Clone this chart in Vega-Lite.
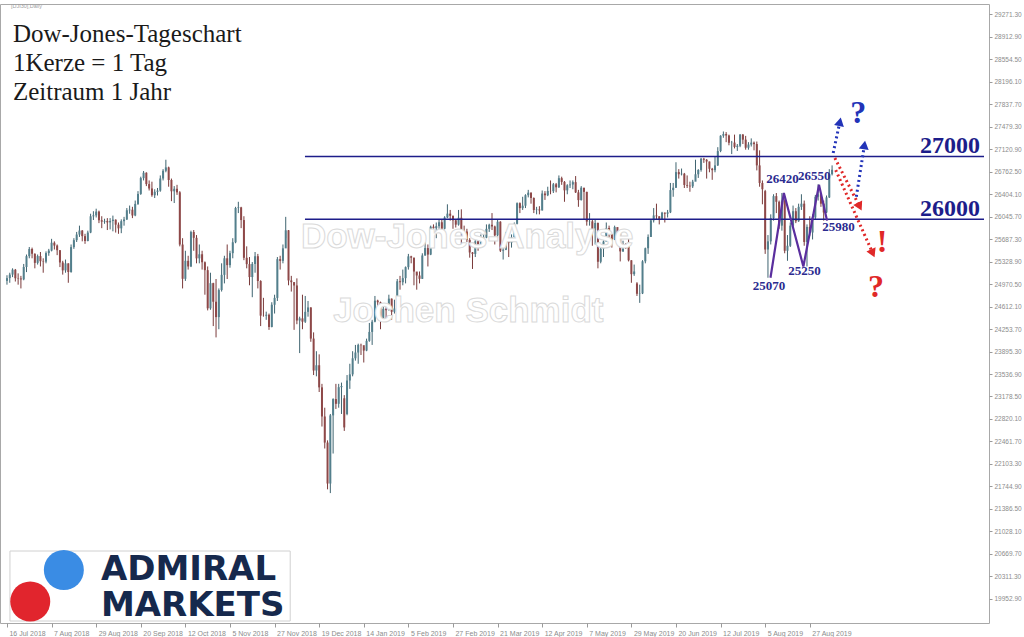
{
"$schema": "https://vega.github.io/schema/vega-lite/v6.json",
"width": 989, "height": 619,
"autosize": {"type": "none"},
"padding": {"left": 0, "top": 4, "right": 35, "bottom": 14},
"background": "white",
"config": {"axis": {"grid": false, "domain": false, "labelFont": "Liberation Sans", "labelFontSize": 7, "labelColor": "#8c8c8c", "tickColor": "#9a9a9a", "tickSize": 3, "title": null, "labelOverlap": false}, "view": {"stroke": "#a8a8a8"}},
"datasets": {
"candles": [
{"i":0,"o":25020,"h":25110,"l":24960,"c":25064},{"i":1,"o":25064,"h":25150,"l":24990,"c":25120},{"i":2,"o":25120,"h":25220,"l":25080,"c":25199},{"i":3,"o":25199,"h":25210,"l":25010,"c":25064},{"i":4,"o":25064,"h":25140,"l":24960,"c":25058},{"i":5,"o":25058,"h":25100,"l":24900,"c":25044},{"i":6,"o":25044,"h":25290,"l":25030,"c":25241},{"i":7,"o":25241,"h":25440,"l":25160,"c":25414},{"i":8,"o":25414,"h":25560,"l":25380,"c":25527},{"i":9,"o":25527,"h":25550,"l":25380,"c":25451},
{"i":10,"o":25451,"h":25460,"l":25220,"c":25307},{"i":11,"o":25307,"h":25440,"l":25280,"c":25415},{"i":12,"o":25415,"h":25480,"l":25250,"c":25333},{"i":13,"o":25333,"h":25380,"l":25150,"c":25327},{"i":14,"o":25327,"h":25490,"l":25300,"c":25463},{"i":15,"o":25463,"h":25530,"l":25420,"c":25502},{"i":16,"o":25502,"h":25690,"l":25490,"c":25628},{"i":17,"o":25628,"h":25650,"l":25520,"c":25583},{"i":18,"o":25583,"h":25600,"l":25430,"c":25509},{"i":19,"o":25509,"h":25510,"l":25240,"c":25313},
{"i":20,"o":25313,"h":25340,"l":25120,"c":25188},{"i":21,"o":25188,"h":25360,"l":25150,"c":25299},{"i":22,"o":25299,"h":25300,"l":24990,"c":25162},{"i":23,"o":25162,"h":25600,"l":25150,"c":25558},{"i":24,"o":25558,"h":25700,"l":25530,"c":25669},{"i":25,"o":25669,"h":25800,"l":25640,"c":25758},{"i":26,"o":25758,"h":25900,"l":25720,"c":25822},{"i":27,"o":25822,"h":25830,"l":25650,"c":25733},{"i":28,"o":25733,"h":25770,"l":25610,"c":25656},{"i":29,"o":25656,"h":25820,"l":25650,"c":25790},
{"i":30,"o":25790,"h":26090,"l":25780,"c":26049},{"i":31,"o":26049,"h":26130,"l":25990,"c":26064},{"i":32,"o":26064,"h":26170,"l":26030,"c":26124},{"i":33,"o":26124,"h":26140,"l":25940,"c":25986},{"i":34,"o":25986,"h":26050,"l":25860,"c":25964},{"i":35,"o":25964,"h":26010,"l":25930,"c":25975},{"i":36,"o":25975,"h":26020,"l":25830,"c":25952},{"i":37,"o":25952,"h":26020,"l":25840,"c":25974},{"i":38,"o":25974,"h":26060,"l":25810,"c":25995},{"i":39,"o":25995,"h":26000,"l":25790,"c":25916},
{"i":40,"o":25916,"h":25950,"l":25770,"c":25857},{"i":41,"o":25857,"h":26000,"l":25780,"c":25971},{"i":42,"o":25971,"h":26040,"l":25900,"c":25998},{"i":43,"o":25998,"h":26180,"l":25990,"c":26145},{"i":44,"o":26145,"h":26220,"l":26090,"c":26154},{"i":45,"o":26154,"h":26200,"l":26020,"c":26062},{"i":46,"o":26062,"h":26300,"l":26050,"c":26246},{"i":47,"o":26246,"h":26450,"l":26230,"c":26405},{"i":48,"o":26405,"h":26680,"l":26390,"c":26657},{"i":49,"o":26657,"h":26770,"l":26620,"c":26743},
{"i":50,"o":26743,"h":26750,"l":26530,"c":26562},{"i":51,"o":26562,"h":26620,"l":26460,"c":26492},{"i":52,"o":26492,"h":26600,"l":26360,"c":26385},{"i":53,"o":26385,"h":26480,"l":26340,"c":26439},{"i":54,"o":26439,"h":26500,"l":26380,"c":26458},{"i":55,"o":26458,"h":26700,"l":26440,"c":26651},{"i":56,"o":26651,"h":26800,"l":26620,"c":26774},{"i":57,"o":26774,"h":26950,"l":26750,"c":26828},{"i":58,"o":26828,"h":26840,"l":26520,"c":26627},{"i":59,"o":26627,"h":26650,"l":26290,"c":26447},
{"i":60,"o":26447,"h":26530,"l":26260,"c":26487},{"i":61,"o":26487,"h":26550,"l":26390,"c":26431},{"i":62,"o":26431,"h":26450,"l":25570,"c":25599},{"i":63,"o":25599,"h":25700,"l":24900,"c":25053},{"i":64,"o":25053,"h":25500,"l":25020,"c":25340},{"i":65,"o":25340,"h":25420,"l":25200,"c":25250},{"i":66,"o":25250,"h":25820,"l":25240,"c":25798},{"i":67,"o":25798,"h":25830,"l":25500,"c":25706},{"i":68,"o":25706,"h":25750,"l":25300,"c":25379},{"i":69,"o":25379,"h":25600,"l":25300,"c":25444},
{"i":70,"o":25444,"h":25500,"l":25200,"c":25317},{"i":71,"o":25317,"h":25330,"l":24800,"c":25191},{"i":72,"o":25191,"h":25250,"l":24550,"c":24583},{"i":73,"o":24583,"h":25150,"l":24560,"c":24984},{"i":74,"o":24984,"h":24990,"l":24300,"c":24688},{"i":75,"o":24688,"h":25050,"l":24120,"c":24443},{"i":76,"o":24443,"h":24900,"l":24250,"c":24874},{"i":77,"o":24874,"h":25300,"l":24850,"c":25116},{"i":78,"o":25116,"h":25420,"l":24980,"c":25380},{"i":79,"o":25380,"h":25600,"l":25050,"c":25271},
{"i":80,"o":25271,"h":25500,"l":25230,"c":25462},{"i":81,"o":25462,"h":25700,"l":25380,"c":25635},{"i":82,"o":25635,"h":26200,"l":25620,"c":26181},{"i":83,"o":26181,"h":26280,"l":26100,"c":26191},{"i":84,"o":26191,"h":26200,"l":25860,"c":25989},{"i":85,"o":25989,"h":26050,"l":25350,"c":25388},{"i":86,"o":25388,"h":25570,"l":25220,"c":25287},{"i":87,"o":25287,"h":25400,"l":24950,"c":25081},{"i":88,"o":25081,"h":25320,"l":24760,"c":25290},{"i":89,"o":25290,"h":25480,"l":25150,"c":25413},
{"i":90,"o":25413,"h":25450,"l":24900,"c":25018},{"i":91,"o":25018,"h":25030,"l":24300,"c":24466},{"i":92,"o":24466,"h":24750,"l":24450,"c":24465},{"i":93,"o":24465,"h":24530,"l":24400,"c":24480},{"i":94,"o":24480,"h":24500,"l":24240,"c":24286},{"i":95,"o":24286,"h":24680,"l":24280,"c":24640},{"i":96,"o":24640,"h":24800,"l":24500,"c":24749},{"i":97,"o":24749,"h":25400,"l":24700,"c":25366},{"i":98,"o":25366,"h":25420,"l":25200,"c":25339},{"i":99,"o":25339,"h":25600,"l":25300,"c":25538},
{"i":100,"o":25538,"h":26040,"l":25700,"c":25826},{"i":101,"o":25826,"h":25830,"l":24950,"c":25027},{"i":102,"o":25027,"h":25100,"l":24850,"c":25000},{"i":103,"o":25000,"h":25000,"l":24240,"c":24947},{"i":104,"o":24947,"h":25060,"l":24330,"c":24389},{"i":105,"o":24389,"h":24450,"l":23870,"c":24423},{"i":106,"o":24423,"h":24800,"l":24250,"c":24370},{"i":107,"o":24370,"h":24780,"l":24350,"c":24527},{"i":108,"o":24527,"h":24700,"l":24450,"c":24597},{"i":109,"o":24597,"h":24600,"l":24050,"c":24101},
{"i":110,"o":24101,"h":24200,"l":23520,"c":23592},{"i":111,"o":23592,"h":23900,"l":23500,"c":23676},{"i":112,"o":23676,"h":23850,"l":23250,"c":23324},{"i":113,"o":23324,"h":23380,"l":22700,"c":22860},{"i":114,"o":22860,"h":23000,"l":22350,"c":22445},{"i":115,"o":22445,"h":22480,"l":21700,"c":21792},{"i":116,"o":21792,"h":22900,"l":21640,"c":22878},{"i":117,"o":22878,"h":23150,"l":22270,"c":23138},{"i":118,"o":23138,"h":23380,"l":22980,"c":23062},{"i":119,"o":23062,"h":23380,"l":23000,"c":23327},
{"i":120,"o":23327,"h":23400,"l":22900,"c":23346},{"i":121,"o":23150,"h":23200,"l":22630,"c":22686},{"i":122,"o":22900,"h":23520,"l":22880,"c":23433},{"i":123,"o":23433,"h":23700,"l":23300,"c":23531},{"i":124,"o":23531,"h":23900,"l":23500,"c":23787},{"i":125,"o":23787,"h":24000,"l":23750,"c":23879},{"i":126,"o":23879,"h":24020,"l":23700,"c":24001},{"i":127,"o":24001,"h":24020,"l":23840,"c":23996},{"i":128,"o":23996,"h":23960,"l":23720,"c":23910},{"i":129,"o":23910,"h":24100,"l":23900,"c":24065},
{"i":130,"o":24065,"h":24350,"l":24050,"c":24207},{"i":131,"o":24207,"h":24400,"l":24000,"c":24370},{"i":132,"o":24370,"h":24780,"l":24360,"c":24706},{"i":133,"o":24706,"h":24720,"l":24560,"c":24680},{"i":134,"o":24680,"h":24690,"l":24250,"c":24404},{"i":135,"o":24404,"h":24650,"l":24380,"c":24575},{"i":136,"o":24575,"h":24600,"l":24400,"c":24553},{"i":137,"o":24553,"h":24800,"l":24550,"c":24737},{"i":138,"o":24737,"h":24740,"l":24400,"c":24528},{"i":139,"o":24528,"h":24720,"l":24500,"c":24580},
{"i":140,"o":24580,"h":25050,"l":24560,"c":25014},{"i":141,"o":25014,"h":25100,"l":24880,"c":24999},{"i":142,"o":24999,"h":25200,"l":24950,"c":25064},{"i":143,"o":25064,"h":25250,"l":24980,"c":25239},{"i":144,"o":25239,"h":25450,"l":25200,"c":25411},{"i":145,"o":25411,"h":25420,"l":25300,"c":25390},{"i":146,"o":25390,"h":25390,"l":24950,"c":25169},{"i":147,"o":25169,"h":25150,"l":24880,"c":25106},{"i":148,"o":25106,"h":25170,"l":24980,"c":25053},{"i":149,"o":25053,"h":25460,"l":25050,"c":25425},
{"i":150,"o":25425,"h":25640,"l":25420,"c":25543},{"i":151,"o":25543,"h":25600,"l":25250,"c":25439},{"i":152,"o":25439,"h":25900,"l":25430,"c":25883},{"i":153,"o":25883,"h":25920,"l":25820,"c":25860},{"i":154,"o":25860,"h":25950,"l":25700,"c":25891},{"i":155,"o":25891,"h":26000,"l":25850,"c":25954},{"i":156,"o":25954,"h":26000,"l":25770,"c":25851},{"i":157,"o":25851,"h":26050,"l":25840,"c":26031},{"i":158,"o":26031,"h":26240,"l":26020,"c":26091},{"i":159,"o":26091,"h":26150,"l":25980,"c":26057},
{"i":160,"o":26057,"h":26060,"l":25850,"c":25985},{"i":161,"o":25985,"h":26000,"l":25870,"c":25916},{"i":162,"o":25916,"h":26150,"l":25900,"c":26026},{"i":163,"o":26026,"h":26160,"l":25600,"c":25819},{"i":164,"o":25819,"h":25900,"l":25730,"c":25806},{"i":165,"o":25806,"h":25850,"l":25640,"c":25673},{"i":166,"o":25673,"h":25700,"l":25390,"c":25473},{"i":167,"o":25473,"h":25480,"l":25210,"c":25450},{"i":168,"o":25450,"h":25670,"l":25400,"c":25650},{"i":169,"o":25650,"h":25700,"l":25500,"c":25554},
{"i":170,"o":25554,"h":25760,"l":25550,"c":25702},{"i":171,"o":25702,"h":25830,"l":25640,"c":25709},{"i":172,"o":25709,"h":25920,"l":25700,"c":25849},{"i":173,"o":25849,"h":25930,"l":25800,"c":25914},{"i":174,"o":25914,"h":26100,"l":25830,"c":25887},{"i":175,"o":25887,"h":25900,"l":25600,"c":25745},{"i":176,"o":25745,"h":26000,"l":25700,"c":25963},{"i":177,"o":25963,"h":25970,"l":25480,"c":25502},{"i":178,"o":25502,"h":25600,"l":25360,"c":25516},{"i":179,"o":25516,"h":25800,"l":25510,"c":25658},
{"i":180,"o":25658,"h":25720,"l":25400,"c":25626},{"i":181,"o":25626,"h":25760,"l":25550,"c":25717},{"i":182,"o":25717,"h":25950,"l":25710,"c":25929},{"i":183,"o":25929,"h":26270,"l":25920,"c":26258},{"i":184,"o":26258,"h":26270,"l":26100,"c":26179},{"i":185,"o":26179,"h":26360,"l":26150,"c":26218},{"i":186,"o":26218,"h":26400,"l":26180,"c":26385},{"i":187,"o":26385,"h":26470,"l":26350,"c":26425},{"i":188,"o":26425,"h":26430,"l":26250,"c":26341},{"i":189,"o":26341,"h":26350,"l":26100,"c":26150},
{"i":190,"o":26150,"h":26200,"l":26080,"c":26157},{"i":191,"o":26157,"h":26210,"l":26080,"c":26143},{"i":192,"o":26143,"h":26460,"l":26140,"c":26412},{"i":193,"o":26412,"h":26450,"l":26310,"c":26384},{"i":194,"o":26384,"h":26520,"l":26370,"c":26453},{"i":195,"o":26453,"h":26620,"l":26400,"c":26449},{"i":196,"o":26449,"h":26580,"l":26420,"c":26559},{"i":197,"o":26559,"h":26580,"l":26430,"c":26511},{"i":198,"o":26511,"h":26700,"l":26500,"c":26656},{"i":199,"o":26656,"h":26680,"l":26550,"c":26597},
{"i":200,"o":26597,"h":26610,"l":26280,"c":26462},{"i":201,"o":26462,"h":26560,"l":26400,"c":26543},{"i":202,"o":26543,"h":26620,"l":26500,"c":26555},{"i":203,"o":26555,"h":26620,"l":26480,"c":26593},{"i":204,"o":26593,"h":26690,"l":26420,"c":26430},{"i":205,"o":26430,"h":26470,"l":26200,"c":26307},{"i":206,"o":26307,"h":26530,"l":26300,"c":26505},{"i":207,"o":26505,"h":26500,"l":26000,"c":26438},{"i":208,"o":26438,"h":26440,"l":25900,"c":25965},{"i":209,"o":25965,"h":26100,"l":25900,"c":25968},
{"i":210,"o":25968,"h":25990,"l":25580,"c":25828},{"i":211,"o":25828,"h":26000,"l":25600,"c":25942},{"i":212,"o":25942,"h":25950,"l":25220,"c":25325},{"i":213,"o":25325,"h":25600,"l":25300,"c":25532},{"i":214,"o":25532,"h":25700,"l":25400,"c":25648},{"i":215,"o":25648,"h":25950,"l":25640,"c":25863},{"i":216,"o":25863,"h":25900,"l":25700,"c":25764},{"i":217,"o":25764,"h":25770,"l":25550,"c":25680},{"i":218,"o":25680,"h":25900,"l":25670,"c":25877},{"i":219,"o":25877,"h":25870,"l":25740,"c":25776},
{"i":220,"o":25776,"h":25780,"l":25330,"c":25490},{"i":221,"o":25490,"h":25660,"l":25480,"c":25586},{"i":222,"o":25586,"h":25620,"l":25530,"c":25580},{"i":223,"o":25580,"h":25700,"l":25330,"c":25348},{"i":224,"o":25348,"h":25350,"l":24990,"c":25127},{"i":225,"o":25127,"h":25280,"l":25100,"c":25170},{"i":226,"o":24980,"h":25000,"l":24780,"c":24815},{"i":227,"o":24815,"h":24960,"l":24670,"c":24820},{"i":228,"o":24820,"h":25350,"l":24810,"c":25332},{"i":229,"o":25332,"h":25550,"l":25300,"c":25540},
{"i":230,"o":25540,"h":25760,"l":25450,"c":25720},{"i":231,"o":25720,"h":26000,"l":25720,"c":25984},{"i":232,"o":25984,"h":26180,"l":25950,"c":26062},{"i":233,"o":26062,"h":26250,"l":26000,"c":26049},{"i":234,"o":26049,"h":26050,"l":25920,"c":26005},{"i":235,"o":26005,"h":26120,"l":25990,"c":26107},{"i":236,"o":26107,"h":26110,"l":25950,"c":26090},{"i":237,"o":26090,"h":26150,"l":26030,"c":26112},{"i":238,"o":26112,"h":26580,"l":26100,"c":26466},{"i":239,"o":26466,"h":26580,"l":26360,"c":26504},
{"i":240,"o":26504,"h":26910,"l":26500,"c":26753},{"i":241,"o":26753,"h":26800,"l":26650,"c":26719},{"i":242,"o":26719,"h":26810,"l":26700,"c":26727},{"i":243,"o":26727,"h":26740,"l":26500,"c":26548},{"i":244,"o":26548,"h":26700,"l":26500,"c":26536},{"i":245,"o":26536,"h":26600,"l":26440,"c":26526},{"i":246,"o":26526,"h":26630,"l":26500,"c":26600},{"i":247,"o":26600,"h":26950,"l":26650,"c":26718},{"i":248,"o":26718,"h":26800,"l":26660,"c":26787},{"i":249,"o":26787,"h":26980,"l":26760,"c":26966},
{"i":250,"o":26966,"h":26980,"l":26900,"c":26950},{"i":251,"o":26950,"h":26960,"l":26650,"c":26922},{"i":252,"o":26922,"h":26920,"l":26750,"c":26806},{"i":253,"o":26806,"h":26820,"l":26630,"c":26784},{"i":254,"o":26784,"h":27000,"l":26750,"c":26860},{"i":255,"o":26860,"h":27150,"l":26850,"c":27088},{"i":256,"o":27088,"h":27340,"l":27070,"c":27332},{"i":257,"o":27332,"h":27400,"l":27300,"c":27359},{"i":258,"o":27359,"h":27390,"l":27230,"c":27336},{"i":259,"o":27336,"h":27350,"l":27180,"c":27220},
{"i":260,"o":27220,"h":27250,"l":27040,"c":27223},{"i":261,"o":27223,"h":27350,"l":27130,"c":27154},{"i":262,"o":27154,"h":27200,"l":27090,"c":27172},{"i":263,"o":27172,"h":27360,"l":27150,"c":27350},{"i":264,"o":27350,"h":27360,"l":27200,"c":27270},{"i":265,"o":27270,"h":27330,"l":27110,"c":27141},{"i":266,"o":27141,"h":27230,"l":27110,"c":27192},{"i":267,"o":27192,"h":27290,"l":27160,"c":27222},{"i":268,"o":27222,"h":27240,"l":27100,"c":27199},{"i":269,"o":27200,"h":27240,"l":26780,"c":26860},
{"i":270,"o":26860,"h":27100,"l":26520,"c":26580},{"i":271,"o":26580,"h":26620,"l":26240,"c":26480},{"i":272,"o":26450,"h":26470,"l":25450,"c":25520},{"i":273,"o":25520,"h":25750,"l":25070,"c":25650},{"i":274,"o":25650,"h":26080,"l":25600,"c":26020},{"i":275,"o":26020,"h":26400,"l":25980,"c":26370},{"i":276,"o":26370,"h":26420,"l":26100,"c":26280},{"i":277,"o":26280,"h":26300,"l":25850,"c":25900},{"i":278,"o":25900,"h":26420,"l":25820,"c":26300},{"i":279,"o":26300,"h":26320,"l":25460,"c":25500},
{"i":280,"o":25500,"h":25750,"l":25340,"c":25580},{"i":281,"o":25580,"h":25950,"l":25560,"c":25900},{"i":282,"o":25900,"h":26220,"l":25880,"c":26130},{"i":283,"o":26130,"h":26180,"l":25940,"c":25970},{"i":284,"o":25970,"h":26250,"l":25960,"c":26200},{"i":285,"o":26200,"h":26400,"l":26150,"c":26250},{"i":286,"o":26250,"h":26300,"l":25580,"c":25640},{"i":287,"o":25640,"h":25920,"l":25250,"c":25880},{"i":288,"o":25880,"h":26050,"l":25740,"c":25790},{"i":289,"o":25790,"h":26080,"l":25680,"c":26030},
{"i":290,"o":26030,"h":26390,"l":26000,"c":26360},{"i":291,"o":26360,"h":26560,"l":26300,"c":26400},{"i":292,"o":26400,"h":26420,"l":26200,"c":26250},{"i":293,"o":26250,"h":26300,"l":25980,"c":26110},{"i":294,"o":26110,"h":26380,"l":26100,"c":26350},{"i":295,"o":26350,"h":26800,"l":26340,"c":26720},{"i":296,"o":26720,"h":26860,"l":26700,"c":26790}
],
"levels": [{"i":106.9,"i2":350.5,"v":27000,"t":"27000","vt":27057},{"i":106.9,"i2":350.5,"v":26000,"t":"26000","vt":26053}],
"wm": [{"i":165.1,"v":25719,"t":"Dow-Jones-Analyse"},{"i":165.5,"v":24540,"t":"Jochen Schmidt"}],
"zig": [{"k":1,"i":273.9,"v":25070},{"k":2,"i":278.7,"v":26420},{"k":3,"i":285.7,"v":25250},{"k":4,"i":291.3,"v":26550},{"k":5,"i":294.2,"v":25980}],
"ziglab": [{"i":278.2,"v":26643,"t":"26420"},{"i":289.6,"v":26691,"t":"26550"},{"i":298.3,"v":25878,"t":"25980"},{"i":286.1,"v":25177,"t":"25250"},{"i":273.4,"v":24938,"t":"25070"}],
"arrows": [
{"a":"b1","dir":"up","k":1,"i":296.4,"v":27057},{"a":"b1","dir":"up","k":2,"i":298.8,"v":27556},
{"a":"b2","dir":"up","k":1,"i":304.7,"v":26361},{"a":"b2","dir":"up","k":2,"i":307.6,"v":27184},
{"a":"r1","dir":"down","k":1,"i":297.0,"v":26977},{"a":"r1","dir":"down","k":2,"i":305.9,"v":26202},
{"a":"r2","dir":"down","k":1,"i":297.3,"v":26786},{"a":"r2","dir":"down","k":2,"i":310.6,"v":25459}
],
"marks": [{"i":305.4,"v":27694,"t":"?","dir":"up"},{"i":313.9,"v":25639,"t":"!","dir":"down"},{"i":311.8,"v":24920,"t":"?","dir":"down"}],
"titles": [{"i":2.13,"v":28825,"t":"Dow-Jones-Tageschart"},{"i":2.13,"v":28363,"t":"1Kerze = 1 Tag"},{"i":2.13,"v":27901,"t":"Zeitraum 1 Jahr"}],
"header": [{"i":1.4,"v":29398,"t":"[DJI30],Daily"}],
"logobox": [{"i":1.07,"i2":101.6,"v":20717,"v2":19602}],
"circles": [{"i":20.4,"v":20415,"c":"blue"},{"i":8.35,"v":19913,"c":"red"}],
"logotext": [{"i":33.7,"v":20259,"t":"ADMIRAL\nMARKETS"}]
},
"layer": [
{"data": {"name": "candles"}, "mark": {"type": "rule", "strokeWidth": 1},
 "encoding": {
  "x": {"field": "i", "type": "quantitative", "scale": {"domain": [-0.71, 350.5], "nice": false, "zero": false},
        "axis": {"orient": "bottom", "values": [0,16,32,48,64,80,96,112,128,144,160,176,192,208,224,240,256,272,288], "tickCount": 40, "labelAlign": "left", "labelPadding": 2, "labelOffset": 2, "tickSize": 4, "labelOverlap": false,
                 "labelExpr": "['16 Jul 2018','7 Aug 2018','29 Aug 2018','20 Sep 2018','12 Oct 2018','5 Nov 2018','27 Nov 2018','19 Dec 2018','14 Jan 2019','5 Feb 2019','27 Feb 2019','21 Mar 2019','12 Apr 2019','7 May 2019','29 May 2019','20 Jun 2019','12 Jul 2019','5 Aug 2019','27 Aug 2019'][round(datum.value/16)]"}},
  "y": {"field": "l", "type": "quantitative", "scale": {"domain": [19570.6, 29430.6], "nice": false, "zero": false},
        "axis": {"orient": "right", "values": [29271.3,28912.9,28554.5,28196.1,27837.7,27479.3,27120.9,26762.5,26404.1,26045.7,25687.3,25328.9,24970.5,24612.1,24253.7,23895.3,23536.9,23178.5,22820.1,22461.7,22103.3,21744.9,21386.5,21028.1,20669.7,20311.3,19952.9], "tickCount": 60, "format": ".2f", "labelPadding": 2, "labelOverlap": false, "labelFontSize": 6.5, "labelBound": false}},
  "y2": {"field": "h"},
  "color": {"condition": {"test": "datum.c >= datum.o", "value": "#3f6470"}, "value": "#7a3a3a"}
 }},
{"data": {"name": "candles"}, "mark": {"type": "bar", "width": 2},
 "encoding": {
  "x": {"field": "i", "type": "quantitative", "scale": {"domain": [-0.71, 350.5], "nice": false, "zero": false}, "axis": {"orient": "bottom"}},
  "y": {"field": "o", "type": "quantitative", "scale": {"domain": [19570.6, 29430.6], "nice": false, "zero": false}, "axis": {"orient": "right"}},
  "y2": {"field": "c"},
  "color": {"condition": {"test": "datum.c >= datum.o", "value": "#537f8c"}, "value": "#8e4848"}
 }},
{"data": {"name": "levels"}, "mark": {"type": "rule", "strokeWidth": 1.5, "color": "#1d1d8a"},
 "encoding": {
  "x": {"field": "i", "type": "quantitative", "scale": {"domain": [-0.71, 350.5], "nice": false, "zero": false}, "axis": {"orient": "bottom"}},
  "x2": {"field": "i2"},
  "y": {"field": "v", "type": "quantitative", "scale": {"domain": [19570.6, 29430.6], "nice": false, "zero": false}, "axis": {"orient": "right"}}
 }},
{"data": {"name": "levels"}, "mark": {"type": "text", "align": "right", "baseline": "alphabetic", "font": "Liberation Serif", "fontWeight": "bold", "fontSize": 24, "color": "#1d1d8a"},
 "encoding": {
  "x": {"datum": 349.1, "type": "quantitative", "scale": {"domain": [-0.71, 350.5], "nice": false, "zero": false}, "axis": {"orient": "bottom"}},
  "y": {"field": "vt", "type": "quantitative", "scale": {"domain": [19570.6, 29430.6], "nice": false, "zero": false}, "axis": {"orient": "right"}},
  "text": {"field": "t"}
 }},
{"data": {"name": "wm"}, "mark": {"type": "text", "align": "center", "baseline": "middle", "font": "Liberation Sans", "fontWeight": "bold", "fontSize": 35, "fill": "#ffffff", "stroke": "#dadada", "strokeWidth": 1},
 "encoding": {
  "x": {"field": "i", "type": "quantitative", "scale": {"domain": [-0.71, 350.5], "nice": false, "zero": false}, "axis": {"orient": "bottom"}},
  "y": {"field": "v", "type": "quantitative", "scale": {"domain": [19570.6, 29430.6], "nice": false, "zero": false}, "axis": {"orient": "right"}},
  "text": {"field": "t"}
 }},
{"data": {"name": "zig"}, "mark": {"type": "line", "strokeWidth": 2.2, "color": "#5a2e9e"},
 "encoding": {
  "x": {"field": "i", "type": "quantitative", "scale": {"domain": [-0.71, 350.5], "nice": false, "zero": false}, "axis": {"orient": "bottom"}},
  "y": {"field": "v", "type": "quantitative", "scale": {"domain": [19570.6, 29430.6], "nice": false, "zero": false}, "axis": {"orient": "right"}},
  "order": {"field": "k"}
 }},
{"data": {"name": "ziglab"}, "mark": {"type": "text", "align": "center", "baseline": "middle", "font": "Liberation Serif", "fontWeight": "bold", "fontSize": 13, "color": "#2b2b8f"},
 "encoding": {
  "x": {"field": "i", "type": "quantitative", "scale": {"domain": [-0.71, 350.5], "nice": false, "zero": false}, "axis": {"orient": "bottom"}},
  "y": {"field": "v", "type": "quantitative", "scale": {"domain": [19570.6, 29430.6], "nice": false, "zero": false}, "axis": {"orient": "right"}},
  "text": {"field": "t"}
 }},
{"data": {"name": "arrows"}, "mark": {"type": "line", "strokeWidth": 3, "strokeDash": [2, 3]},
 "encoding": {
  "x": {"field": "i", "type": "quantitative", "scale": {"domain": [-0.71, 350.5], "nice": false, "zero": false}, "axis": {"orient": "bottom"}},
  "y": {"field": "v", "type": "quantitative", "scale": {"domain": [19570.6, 29430.6], "nice": false, "zero": false}, "axis": {"orient": "right"}},
  "detail": {"field": "a"},
  "order": {"field": "k"},
  "color": {"condition": {"test": "datum.dir == 'up'", "value": "#2233b8"}, "value": "#e02828"}
 }},
{"data": {"name": "arrows"}, "transform": [{"filter": "datum.a == 'b1' && datum.k == 2"}], "mark": {"type": "point", "shape": "triangle-up", "filled": true, "size": 100, "angle": 12, "opacity": 1, "color": "#2233b8"},
 "encoding": {
  "x": {"field": "i", "type": "quantitative", "scale": {"domain": [-0.71, 350.5], "nice": false, "zero": false}, "axis": {"orient": "bottom"}},
  "y": {"field": "v", "type": "quantitative", "scale": {"domain": [19570.6, 29430.6], "nice": false, "zero": false}, "axis": {"orient": "right"}}
 }},
{"data": {"name": "arrows"}, "transform": [{"filter": "datum.a == 'b2' && datum.k == 2"}], "mark": {"type": "point", "shape": "triangle-up", "filled": true, "size": 100, "angle": 9, "opacity": 1, "color": "#2233b8"},
 "encoding": {
  "x": {"field": "i", "type": "quantitative", "scale": {"domain": [-0.71, 350.5], "nice": false, "zero": false}, "axis": {"orient": "bottom"}},
  "y": {"field": "v", "type": "quantitative", "scale": {"domain": [19570.6, 29430.6], "nice": false, "zero": false}, "axis": {"orient": "right"}}
 }},
{"data": {"name": "arrows"}, "transform": [{"filter": "datum.a == 'r1' && datum.k == 2"}], "mark": {"type": "point", "shape": "triangle-up", "filled": true, "size": 100, "angle": 153, "opacity": 1, "color": "#e02828"},
 "encoding": {
  "x": {"field": "i", "type": "quantitative", "scale": {"domain": [-0.71, 350.5], "nice": false, "zero": false}, "axis": {"orient": "bottom"}},
  "y": {"field": "v", "type": "quantitative", "scale": {"domain": [19570.6, 29430.6], "nice": false, "zero": false}, "axis": {"orient": "right"}}
 }},
{"data": {"name": "arrows"}, "transform": [{"filter": "datum.a == 'r2' && datum.k == 2"}], "mark": {"type": "point", "shape": "triangle-up", "filled": true, "size": 100, "angle": 156, "opacity": 1, "color": "#e02828"},
 "encoding": {
  "x": {"field": "i", "type": "quantitative", "scale": {"domain": [-0.71, 350.5], "nice": false, "zero": false}, "axis": {"orient": "bottom"}},
  "y": {"field": "v", "type": "quantitative", "scale": {"domain": [19570.6, 29430.6], "nice": false, "zero": false}, "axis": {"orient": "right"}}
 }},
{"data": {"name": "marks"}, "mark": {"type": "text", "align": "center", "baseline": "middle", "font": "Liberation Serif", "fontWeight": "bold", "fontSize": 32},
 "encoding": {
  "x": {"field": "i", "type": "quantitative", "scale": {"domain": [-0.71, 350.5], "nice": false, "zero": false}, "axis": {"orient": "bottom"}},
  "y": {"field": "v", "type": "quantitative", "scale": {"domain": [19570.6, 29430.6], "nice": false, "zero": false}, "axis": {"orient": "right"}},
  "text": {"field": "t"},
  "color": {"condition": {"test": "datum.dir == 'up'", "value": "#2233b8"}, "value": "#e02828"}
 }},
{"data": {"name": "titles"}, "mark": {"type": "text", "align": "left", "baseline": "alphabetic", "font": "Liberation Serif", "fontSize": 25, "color": "#1a1a1a"},
 "encoding": {
  "x": {"field": "i", "type": "quantitative", "scale": {"domain": [-0.71, 350.5], "nice": false, "zero": false}, "axis": {"orient": "bottom"}},
  "y": {"field": "v", "type": "quantitative", "scale": {"domain": [19570.6, 29430.6], "nice": false, "zero": false}, "axis": {"orient": "right"}},
  "text": {"field": "t"}
 }},
{"data": {"name": "header"}, "mark": {"type": "text", "align": "left", "baseline": "middle", "font": "Liberation Sans", "fontSize": 5.5, "color": "#a0a0a0"},
 "encoding": {
  "x": {"field": "i", "type": "quantitative", "scale": {"domain": [-0.71, 350.5], "nice": false, "zero": false}, "axis": {"orient": "bottom"}},
  "y": {"field": "v", "type": "quantitative", "scale": {"domain": [19570.6, 29430.6], "nice": false, "zero": false}, "axis": {"orient": "right"}},
  "text": {"field": "t"}
 }},
{"data": {"name": "logobox"}, "mark": {"type": "rect", "fill": "#ffffff", "stroke": "#d0d0d0", "strokeWidth": 1},
 "encoding": {
  "x": {"field": "i", "type": "quantitative", "scale": {"domain": [-0.71, 350.5], "nice": false, "zero": false}, "axis": {"orient": "bottom"}},
  "x2": {"field": "i2"},
  "y": {"field": "v", "type": "quantitative", "scale": {"domain": [19570.6, 29430.6], "nice": false, "zero": false}, "axis": {"orient": "right"}},
  "y2": {"field": "v2"}
 }},
{"data": {"name": "circles"}, "mark": {"type": "point", "shape": "circle", "filled": true, "size": 1600, "opacity": 1},
 "encoding": {
  "x": {"field": "i", "type": "quantitative", "scale": {"domain": [-0.71, 350.5], "nice": false, "zero": false}, "axis": {"orient": "bottom"}},
  "y": {"field": "v", "type": "quantitative", "scale": {"domain": [19570.6, 29430.6], "nice": false, "zero": false}, "axis": {"orient": "right"}},
  "color": {"condition": {"test": "datum.c == 'blue'", "value": "#3a8ce4"}, "value": "#e1252d"}
 }},
{"data": {"name": "logotext"}, "mark": {"type": "text", "align": "left", "baseline": "alphabetic", "font": "DejaVu Sans", "fontWeight": "bold", "fontSize": 34, "lineBreak": "\n", "lineHeight": 36, "color": "#16294d"},
 "encoding": {
  "x": {"field": "i", "type": "quantitative", "scale": {"domain": [-0.71, 350.5], "nice": false, "zero": false}, "axis": {"orient": "bottom"}},
  "y": {"field": "v", "type": "quantitative", "scale": {"domain": [19570.6, 29430.6], "nice": false, "zero": false}, "axis": {"orient": "right"}},
  "text": {"field": "t"}
 }}
]
}
